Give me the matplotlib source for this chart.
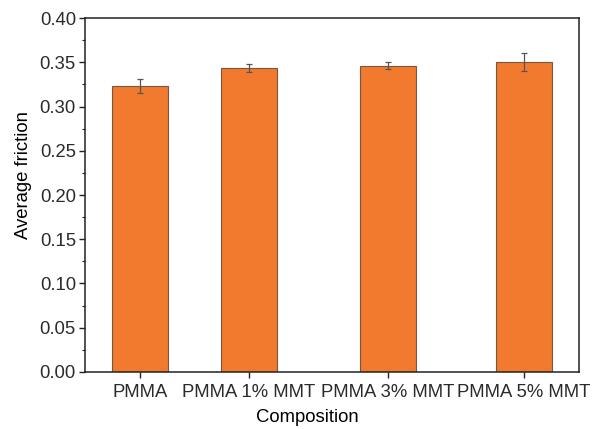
import matplotlib.pyplot as plt
import numpy as np

plt.rcParams['font.family'] = ['Liberation Sans', 'DejaVu Sans']
plt.rcParams['text.color'] = '#2b2b2b'
plt.rcParams['xtick.labelcolor'] = '#2b2b2b'
plt.rcParams['ytick.labelcolor'] = '#2b2b2b'

# composition labels, mean friction and error
labels = ['PMMA', 'PMMA 1% MMT', 'PMMA 3% MMT', 'PMMA 5% MMT']
friction = [0.323, 0.3435, 0.346, 0.350]
err = [0.008, 0.004, 0.004, 0.010]

# bar centres along the x axis (spacing is not uniform)
xpos = np.array([1.0, 2.0, 3.275, 4.523])

fig = plt.figure(figsize=(6.05, 4.29), dpi=100)
ax = fig.add_axes([0.1405, 0.1329, 0.8165, 0.8251])

ax.bar(xpos, friction, width=0.514, color='#F17A2F', edgecolor='#7a5540',
       linewidth=0.8, zorder=2)
ax.errorbar(xpos, friction, yerr=err, fmt='none', ecolor='#555555',
            elinewidth=0.9, capsize=2.5, capthick=0.9, zorder=3)

ax.set_xlim(0.4954, 5.028)
ax.set_ylim(0, 0.40)
ax.set_xticks(xpos)
ax.set_xticklabels(labels)
ax.set_yticks(np.arange(0, 0.401, 0.05))
ax.set_yticks(np.arange(0.025, 0.4, 0.05), minor=True)
ax.yaxis.set_major_formatter(plt.FormatStrFormatter('%.2f'))

ax.tick_params(axis='both', which='major', direction='out', length=4.5,
               width=1.0, labelsize=13.3, pad=2, color='#222222')
ax.tick_params(axis='x', which='major', pad=4.5)
ax.tick_params(axis='y', which='minor', direction='out', length=2.2,
               width=0.8, color='#222222')
ax.tick_params(axis='x', which='minor', bottom=False)

for s in ax.spines.values():
    s.set_linewidth(1.1)
    s.set_color('#222222')

ax.set_xlabel('Composition', fontsize=13.3)
ax.set_ylabel('Average friction', fontsize=13.3)
ax.xaxis.set_label_coords(0.451, -0.104)
ax.yaxis.set_label_coords(-0.108, 0.556)

fig.savefig('out.png', dpi=100)
